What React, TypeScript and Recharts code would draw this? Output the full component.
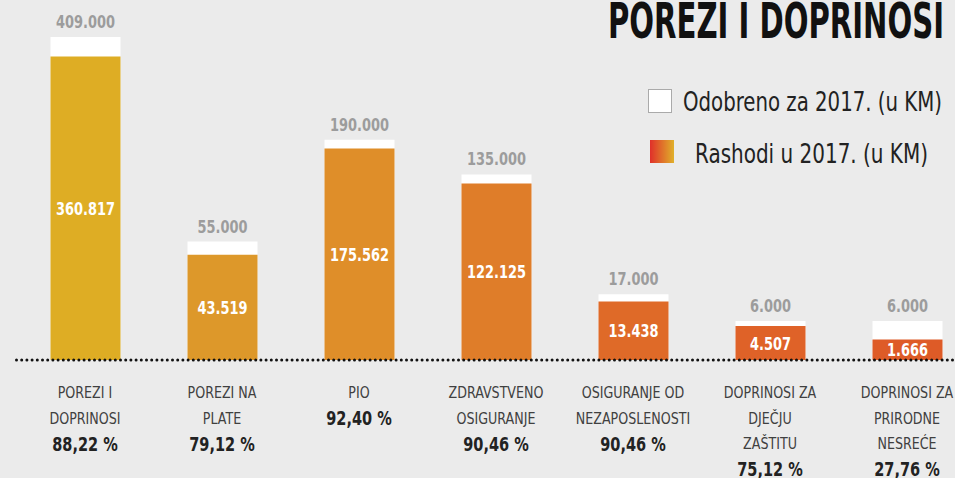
import React from 'react';
import { BarChart, Bar, XAxis, YAxis, Cell, LabelList } from 'recharts';

const categories = [
  'POREZI I\nDOPRINOSI',
  'POREZI NA\nPLATE',
  'PIO',
  'ZDRAVSTVENO\nOSIGURANJE',
  'OSIGURANJE OD\nNEZAPOSLENOSTI',
  'DOPRINOSI ZA\nDJEČJU\nZAŠTITU',
  'DOPRINOSI ZA\nPRIRODNE\nNESREĆE',
];
const approved = [409000, 55000, 190000, 135000, 17000, 6000, 6000];
const spent = [360817, 43519, 175562, 122125, 13438, 4507, 1666];
const percents = ['88,22 %', '79,12 %', '92,40 %', '90,46 %', '90,46 %', '75,12 %', '27,76 %'];
const barColors = ['#dead24', '#dd982a', '#df8e29', '#df7d29', '#df6a28', '#df6228', '#de5b27'];

const chartData = categories.map((name, i) => ({
  name,
  approved: approved[i],
  spent: spent[i],
}));

const COND = "'DejaVu Sans Condensed', sans-serif";

// 409000 -> "409.000"
function formatKM(value: number): string {
  return String(value).replace(/\B(?=(\d{3})+(?!\d))/g, '.');
}

function CategoryTick({ x, y, index }: { x?: number; y?: number; index?: number }) {
  const i = index ?? 0;
  const lines = categories[i].split('\n');
  return (
    <g transform={`translate(${x},${y})`}>
      {lines.map((line, j) => (
        <text
          key={j}
          transform={`translate(0,${j * 25.5 + 30}) scale(0.88,1)`}
          textAnchor="middle"
          fontFamily={COND}
          fontSize={16}
          fill="#404040"
        >
          {line}
        </text>
      ))}
      <text
        transform={`translate(0,${(lines.length - 1) * 25.5 + 57}) scale(0.85,1)`}
        textAnchor="middle"
        fontFamily={COND}
        fontWeight="bold"
        fontSize={19}
        fill="#222"
      >
        {percents[i]}
      </text>
    </g>
  );
}

function TopLabel(props: any) {
  const { x, y, width, value } = props;
  return (
    <text
      transform={`translate(${x + width / 2},${y - 9}) scale(0.8,1)`}
      textAnchor="middle"
      fontFamily={COND}
      fontWeight="bold"
      fontSize={18}
      fill="#9c9c9c"
    >
      {formatKM(Number(value))}
    </text>
  );
}

function InnerLabel(props: any) {
  const { x, y, width, height, value } = props;
  return (
    <text
      transform={`translate(${x + width / 2},${y + height / 2 + 6.5}) scale(0.8,1)`}
      textAnchor="middle"
      fontFamily={COND}
      fontWeight="bold"
      fontSize={18}
      fill="#fff"
    >
      {formatKM(Number(value))}
    </text>
  );
}

function Header() {
  return (
    <svg width={955} height={180} style={{ position: 'absolute', left: 0, top: 0, pointerEvents: 'none' }}>
      <defs>
        <linearGradient id="legendGrad" x1="0" y1="0" x2="1" y2="0">
          <stop offset="0%" stopColor="#e0302a" />
          <stop offset="100%" stopColor="#e0b02a" />
        </linearGradient>
      </defs>
      <text
        x={608}
        y={37.5}
        fontFamily={COND}
        fontWeight="bold"
        fontSize={49}
        fill="#111"
        textLength={336}
        lengthAdjust="spacingAndGlyphs"
      >
        POREZI I DOPRINOSI
      </text>
      <rect x={648.5} y={89.5} width={23} height={23} fill="#fff" stroke="#aaa" />
      <text x={683} y={111} fontFamily={COND} fontSize={27} fill="#222" textLength={259} lengthAdjust="spacingAndGlyphs">
        Odobreno za 2017. (u KM)
      </text>
      <rect x={650} y={140} width={24} height={23} fill="url(#legendGrad)" />
      <text x={695} y={163} fontFamily={COND} fontSize={27} fill="#222" textLength={233} lengthAdjust="spacingAndGlyphs">
        Rashodi u 2017. (u KM)
      </text>
    </svg>
  );
}

export default function App() {
  return (
    <div
      style={{
        position: 'fixed',
        left: 0,
        top: 0,
        width: 955,
        height: 478,
        overflow: 'hidden',
        background: '#ebebeb',
      }}
    >
      <BarChart
        width={990}
        height={478}
        data={chartData}
        barGap={-70}
        margin={{ top: 37, right: 14.5, left: 16.5, bottom: 8 }}
      >
        <XAxis
          dataKey="name"
          height={110}
          interval={0}
          tickLine={false}
          axisLine={{ stroke: '#111', strokeWidth: 3, strokeDasharray: '0 5.2', strokeLinecap: 'round' }}
          tick={<CategoryTick />}
        />
        <YAxis hide scale="sqrt" domain={[0, 409000]} />
        <Bar dataKey="approved" fill="#fff" barSize={70} isAnimationActive={false}>
          <LabelList dataKey="approved" content={<TopLabel />} />
        </Bar>
        <Bar dataKey="spent" barSize={70} isAnimationActive={false}>
          {chartData.map((_, i) => (
            <Cell key={i} fill={barColors[i]} />
          ))}
          <LabelList dataKey="spent" content={<InnerLabel />} />
        </Bar>
      </BarChart>
      <Header />
    </div>
  );
}
